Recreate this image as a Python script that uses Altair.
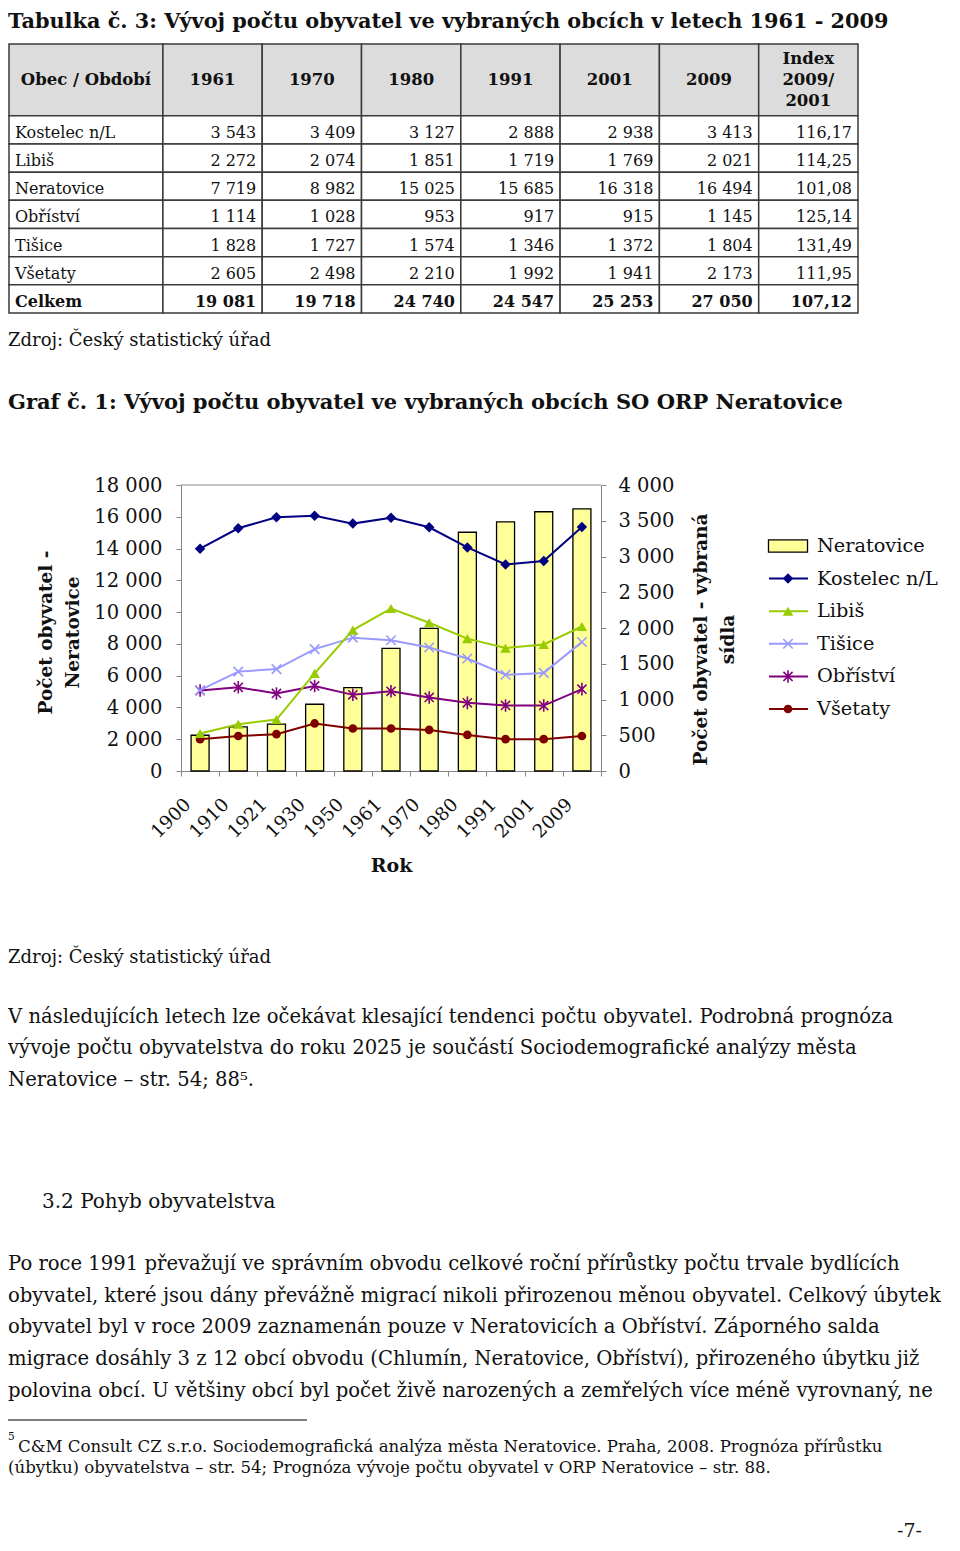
import altair as alt
import pandas as pd

SERIF = "DejaVu Serif"
INK = "#111111"
GRID = "#868686"

# ---------------- table data ----------------
obce = ["Kostelec n/L", "Libiš", "Neratovice", "Obříství", "Tišice", "Všetaty"]
obdobi = ["1961", "1970", "1980", "1991", "2001", "2009"]
t_kostelec = [3543, 3409, 3127, 2888, 2938, 3413]
t_libis = [2272, 2074, 1851, 1719, 1769, 2021]
t_neratovice = [7719, 8982, 15025, 15685, 16318, 16494]
t_obristvi = [1114, 1028, 953, 917, 915, 1145]
t_tisice = [1828, 1727, 1574, 1346, 1372, 1804]
t_vsetaty = [2605, 2498, 2210, 1992, 1941, 2173]
t_celkem = [19081, 19718, 24740, 24547, 25253, 27050]
t_index = [116.17, 114.25, 101.08, 125.14, 131.49, 111.95, 107.12]
celkem_label = "Celkem"
header_first = "Obec / Období"
header_index = "Index\n2009/\n2001"

# ---------------- chart data ----------------
roky = ["1900", "1910", "1921", "1930", "1950", "1961", "1970", "1980", "1991", "2001", "2009"]
g_neratovice = [2250, 2780, 2950, 4200, 5250, 7719, 8982, 15025, 15685, 16318, 16494]
g_kostelec = [3110, 3395, 3550, 3570, 3460, 3543, 3409, 3127, 2888, 2938, 3413]
g_libis = [525, 655, 720, 1365, 1970, 2272, 2074, 1851, 1719, 1769, 2021]
g_tisice = [1130, 1390, 1425, 1705, 1865, 1828, 1727, 1574, 1346, 1372, 1804]
g_obristvi = [1125, 1170, 1085, 1190, 1065, 1114, 1028, 953, 917, 915, 1145]
g_vsetaty = [445, 490, 515, 665, 595, 595, 575, 505, 445, 445, 490]
legend_names = ["Neratovice", "Kostelec n/L", "Libiš", "Tišice", "Obříství", "Všetaty"]

# ---------------- page texts ----------------
title_table = "Tabulka č. 3: Vývoj počtu obyvatel ve vybraných obcích v letech 1961 - 2009"
source_text = "Zdroj: Český statistický úřad"
title_graph = "Graf č. 1: Vývoj počtu obyvatel ve vybraných obcích SO ORP Neratovice"
para1 = [
    "V následujících letech lze očekávat klesající tendenci počtu obyvatel. Podrobná prognóza",
    "vývoje počtu obyvatelstva do roku 2025 je součástí Sociodemografické analýzy města",
    "Neratovice – str. 54; 88⁵.",
]
heading2 = "3.2 Pohyb obyvatelstva"
para2 = [
    "Po roce 1991 převažují ve správním obvodu celkové roční přírůstky počtu trvale bydlících",
    "obyvatel, které jsou dány převážně migrací nikoli přirozenou měnou obyvatel. Celkový úbytek",
    "obyvatel byl v roce 2009 zaznamenán pouze v Neratovicích a Obříství. Záporného salda",
    "migrace dosáhly 3 z 12 obcí obvodu (Chlumín, Neratovice, Obříství), přirozeného úbytku již",
    "polovina obcí. U většiny obcí byl počet živě narozených a zemřelých více méně vyrovnaný, ne",
]
foot_mark = "5"
foot1 = "C&M Consult CZ s.r.o. Sociodemografická analýza města Neratovice. Praha, 2008. Prognóza přírůstku"
foot2 = "(úbytku) obyvatelstva – str. 54; Prognóza vývoje počtu obyvatel v ORP Neratovice – str. 88."
page_no = "-7-"


def fnum(v):
    return f"{v:,}".replace(",", " ")


def fidx(v):
    return f"{v:.2f}".replace(".", ",")


ONE = alt.Data(values=[{"k": 0}])


def txt(lines, x, y, size, weight="normal", align="left", lh=None, font=SERIF):
    props = dict(font=font, fontSize=size, fontWeight=weight, align=align,
                 baseline="alphabetic", color=INK)
    if lh:
        props["lineHeight"] = lh
    return alt.Chart(ONE).mark_text(**props).encode(
        x=alt.value(x), y=alt.value(y), text=alt.value(lines))


# ---------------- table ----------------
col_labels = [header_first] + obdobi + [header_index]
col_w = [1.55] + [1.0] * 7
edges = [0.0]
for w in col_w:
    edges.append(edges[-1] + w)
HEAD = 2.55
row_names = obce + [celkem_label]
row_vals = [t_kostelec, t_libis, t_neratovice, t_obristvi, t_tisice, t_vsetaty, t_celkem]

cells, heads, names, nums = [], [], [], []
for c in range(8):
    cells.append(dict(x0=edges[c], x1=edges[c + 1], y0=0, y1=HEAD, kind="head"))
    heads.append(dict(xm=(edges[c] + edges[c + 1]) / 2, ym=HEAD / 2, label=col_labels[c],
                      multi="\n" in col_labels[c]))
    for r in range(7):
        cells.append(dict(x0=edges[c], x1=edges[c + 1], y0=HEAD + r, y1=HEAD + r + 1, kind="body"))
for r in range(7):
    bold = "b" if r == 6 else "n"
    names.append(dict(x0=edges[0], y1=HEAD + r + 1, label=row_names[r], w=bold))
    for c in range(6):
        nums.append(dict(x1=edges[c + 2], y1=HEAD + r + 1, label=fnum(row_vals[r][c]), w=bold))
    nums.append(dict(x1=edges[8], y1=HEAD + r + 1, label=fidx(t_index[r]), w=bold))

cells_df = pd.DataFrame(cells)
heads_df = pd.DataFrame(heads)
names_df = pd.DataFrame(names)
nums_df = pd.DataFrame(nums)

TX = alt.Scale(domain=[0, edges[-1]], range=[1, 850], nice=False, zero=False)
TY = alt.Scale(domain=[0, HEAD + 7], range=[36, 305], nice=False, zero=False)

t_rect = alt.Chart(cells_df).mark_rect(stroke="#3a3a3a", strokeWidth=1.5).encode(
    x=alt.X("x0:Q", scale=TX, axis=None), x2="x1:Q",
    y=alt.Y("y0:Q", scale=TY, axis=None), y2="y1:Q",
    fill=alt.Fill("kind:N", scale=alt.Scale(domain=["head", "body"], range=["#dcdcdc", "#ffffff"]), legend=None),
)


def head_text(multi, dy):
    return alt.Chart(heads_df).transform_filter(
        alt.datum.multi == multi
    ).mark_text(font=SERIF, fontSize=16.5, fontWeight="bold", align="center", baseline="middle",
                lineBreak="\n", lineHeight=21, dy=dy, color=INK).encode(
        x=alt.X("xm:Q", scale=TX, axis=None), y=alt.Y("ym:Q", scale=TY, axis=None), text="label:N")


def table_text(df, field, align, dx, weight):
    return alt.Chart(df).transform_filter(
        alt.datum.w == ("b" if weight == "bold" else "n")
    ).mark_text(font=SERIF, fontSize=16, fontWeight=weight, align=align, baseline="alphabetic",
                dx=dx, dy=-6, color=INK).encode(
        x=alt.X(f"{field}:Q", scale=TX, axis=None), y=alt.Y("y1:Q", scale=TY, axis=None), text="label:N")


table = alt.layer(
    t_rect, head_text(False, 0), head_text(True, -21),
    table_text(names_df, "x0", "left", 6, "normal"),
    table_text(names_df, "x0", "left", 6, "bold"),
    table_text(nums_df, "x1", "right", -6, "normal"),
    table_text(nums_df, "x1", "right", -6, "bold"),
)

# ---------------- combo chart ----------------
label_expr = "replace(format(datum.value, ','), ',', ' ')"
X = alt.X(
    "rok:N", sort=roky,
    scale=alt.Scale(type="band", domain=roky, range=[173, 593], paddingInner=0, paddingOuter=0),
    axis=alt.Axis(orient="bottom", offset=-772, labelAngle=315, labelAlign="right", labelBaseline="middle",
                  labelFont=SERIF, labelFontSize=18.5, labelColor=INK, labelPadding=25, labelOffset=-13,
                  labelOverlap=False, labelBound=False, tickBand="extent", tickSize=5, tickColor=GRID,
                  domainColor=GRID, grid=False, title="Rok", titleFont=SERIF, titleFontSize=19,
                  titleFontWeight="bold", titleColor=INK, titleX=383, titleY=94, titleBaseline="middle",
                  titleAlign="center"),
)
YL = alt.Y(
    "n:Q", scale=alt.Scale(domain=[0, 18000], range=[763, 477], nice=False, zero=True),
    axis=alt.Axis(orient="left", offset=-173, values=list(range(0, 18001, 2000)), labelExpr=label_expr,
                  labelFont=SERIF, labelFontSize=19.5, labelColor=INK, labelPadding=14, tickSize=5,
                  tickColor=GRID, domainColor=GRID, grid=False,
                  title=["Počet obyvatel -", "Neratovice"], titleFont=SERIF, titleFontSize=18.5,
                  titleFontWeight="bold", titleColor=INK, titleAngle=270, titleX=-136, titleY=624,
                  titleBaseline="middle", titleAlign="center", titleLineHeight=27),
)
YR = alt.Y(
    "v:Q", scale=alt.Scale(domain=[0, 4000], range=[763, 477], nice=False, zero=True),
    axis=alt.Axis(orient="right", offset=-351, values=list(range(0, 4001, 500)), labelExpr=label_expr,
                  labelFont=SERIF, labelFontSize=19.5, labelColor=INK, labelPadding=12, tickSize=5,
                  tickColor=GRID, domainColor=GRID, grid=False,
                  title=["Počet obyvatel - vybraná", "sídla"], titleFont=SERIF, titleFontSize=18.5,
                  titleFontWeight="bold", titleColor=INK, titleAngle=270, titleX=99, titleY=631,
                  titleBaseline="middle", titleAlign="center", titleLineHeight=27),
)

bars = alt.Chart(pd.DataFrame({"rok": roky, "n": g_neratovice})).mark_bar(
    size=18, fill="#FFFF99", stroke="#000000", strokeWidth=1.3).encode(x=X, y=YL)

ASTER = "M-0.8,-0.8L0.8,0.8M-0.8,0.8L0.8,-0.8M0,-1.1L0,1.1"
CROSS = "M-1,-1L1,1M-1,1L1,-1"
styles = {
    "Kostelec n/L": ("#000080", "diamond", True, 110, g_kostelec),
    "Libiš": ("#99CC00", "triangle-up", True, 110, g_libis),
    "Tišice": ("#9999FF", CROSS, False, 90, g_tisice),
    "Obříství": ("#800080", ASTER, False, 130, g_obristvi),
    "Všetaty": ("#800000", "circle", True, 75, g_vsetaty),
}
series_layers = []
for name in ["Všetaty", "Obříství", "Tišice", "Libiš", "Kostelec n/L"]:
    color, shape, filled, size, vals = styles[name]
    df = pd.DataFrame({"rok": roky, "v": vals})
    series_layers.append(alt.Chart(df).mark_line(color=color, strokeWidth=2).encode(x=X, y=YR))
    series_layers.append(alt.Chart(df).mark_point(shape=shape, filled=filled, size=size, color=color,
                                                  opacity=1, strokeWidth=1.6).encode(x=X, y=YR))

frame_top = alt.Chart(ONE).mark_rule(color=GRID, strokeWidth=1).encode(
    x=alt.value(173), x2=alt.value(593), y=alt.value(477))

combo = alt.layer(bars, alt.layer(*series_layers)).resolve_scale(y="independent")

# ---------------- legend ----------------
leg_df = pd.DataFrame({"name": legend_names})
LY = alt.Y("name:N", scale=alt.Scale(type="point", domain=legend_names, range=[538, 701], padding=0), axis=None)
leg_layers = [
    alt.Chart(leg_df).transform_filter(alt.datum.name == "Neratovice").mark_point(
        shape="M-1.6,-0.5H1.6V0.5H-1.6Z", size=595, filled=True, fill="#FFFF99", stroke="#000000",
        strokeWidth=1.3, opacity=1).encode(x=alt.value(780), y=LY)
]
for name in legend_names[1:]:
    color, shape, filled, size, _ = styles[name]
    base = alt.Chart(leg_df).transform_filter(alt.datum.name == name)
    leg_layers.append(base.mark_rule(color=color, strokeWidth=2).encode(
        x=alt.value(761), x2=alt.value(800), y=LY))
    leg_layers.append(base.mark_point(shape=shape, filled=filled, size=size, color=color, opacity=1,
                                      strokeWidth=1.6).encode(x=alt.value(780), y=LY))
leg_layers.append(alt.Chart(leg_df).mark_text(font=SERIF, fontSize=19.3, align="left", baseline="middle",
                                              color=INK).encode(x=alt.value(809), y=LY, text="name:N"))
legend = alt.layer(*leg_layers)

# ---------------- page texts ----------------
texts = [
    txt(title_table, 0, 19.5, 20.8, "bold"),
    txt(source_text, 0, 338, 18),
    txt(title_graph, 0, 401, 21, "bold"),
    txt(source_text, 0, 955, 18),
    txt(para1, 0, 1015, 19.6, lh=31.3),
    txt(heading2, 34, 1200, 20),
    txt(para2, 0, 1262, 19.6, lh=31.7),
    txt(foot_mark, 0, 1432, 10.5),
    txt(foot1, 10, 1444, 16.6),
    txt([foot2], 0, 1465, 16.6),
    txt(page_no, 914, 1529, 19, align="right"),
]
foot_rule = alt.Chart(ONE).mark_rule(color="#000000", strokeWidth=1).encode(
    x=alt.value(0), x2=alt.value(299), y=alt.value(1412))

chart = alt.layer(
    table, combo, frame_top, legend, foot_rule, *texts
).resolve_scale(
    x="independent", y="independent", fill="independent"
).properties(
    width=944, height=1535, autosize=alt.AutoSizeParams(type="none"), padding=0
).configure_view(stroke=None)

chart.save("out.html", embed_options={"renderer": "svg", "actions": False})
